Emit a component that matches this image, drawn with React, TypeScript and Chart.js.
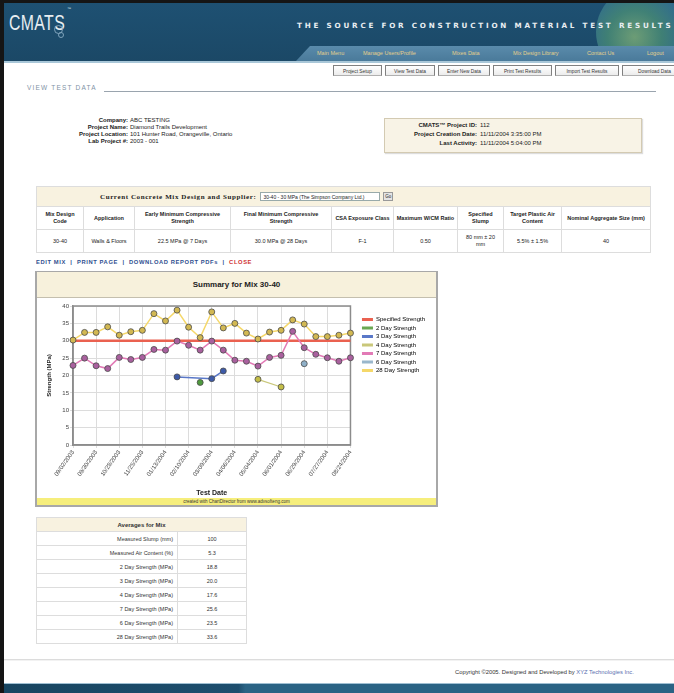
import React, { useEffect, useRef } from "react";
import { Chart, registerables } from "chart.js";

Chart.register(...registerables);

// ---------------- DATA ----------------
const testDates = [
  "09/02/2003", "09/16/2003", "09/30/2003", "10/14/2003", "10/28/2003",
  "11/11/2003", "11/25/2003", "12/09/2003", "01/13/2004", "01/27/2004",
  "02/10/2004", "02/24/2004", "03/09/2004", "03/23/2004", "04/06/2004",
  "04/20/2004", "05/04/2004", "05/18/2004", "06/01/2004", "06/15/2004",
  "06/29/2004", "07/13/2004", "07/27/2004", "08/10/2004", "08/24/2004",
];

const specifiedStrength = [
  30, 30, 30, 30, 30, 30, 30, 30, 30, 30, 30, 30, 30,
  30, 30, 30, 30, 30, 30, 30, 30, 30, 30, 30, 30,
];

const day2Strength = [
  null, null, null, null, null, null, null, null, null, null, null, 18.0, null,
  null, null, null, null, null, null, null, null, null, null, null, null,
];

const day3Strength = [
  null, null, null, null, null, null, null, null, null, 19.6, null, null, 19.1,
  21.3, null, null, null, null, null, null, null, null, null, null, null,
];

const day4Strength = [
  null, null, null, null, null, null, null, null, null, null, null, null, null,
  null, null, null, 18.9, null, 16.7, null, null, null, null, null, null,
];

const day7Strength = [
  22.9, 25.0, 22.8, 22.0, 25.2, 24.6, 25.2, 27.5, 27.3, 29.9, 28.7, 27.3, 29.9,
  27.3, 24.4, 24.1, 22.7, 25.2, 25.8, 32.7, 28.0, 26.1, 25.1, 24.1, 25.1,
];

const day6Strength = [
  null, null, null, null, null, null, null, null, null, null, null, null, null,
  null, null, null, null, null, null, null, 23.4, null, null, null, null,
];

const day28Strength = [
  30.2, 32.4, 32.4, 34.0, 31.6, 32.6, 33.0, 37.8, 35.7, 38.8, 33.9, 30.9, 38.3,
  33.7, 35.0, 32.2, 30.5, 32.5, 33.0, 36.0, 34.8, 31.2, 31.2, 31.6, 32.2,
];

const yTicksMin = 0;
const yTicksMax = 40;
const yTickStep = 5;

const averageLabels = [
  "Measured Slump (mm)",
  "Measured Air Content (%)",
  "2 Day Strength (MPa)",
  "3 Day Strength (MPa)",
  "4 Day Strength (MPa)",
  "7 Day Strength (MPa)",
  "6 Day Strength (MPa)",
  "28 Day Strength (MPa)",
];
const averageValues = ["100", "5.3", "18.8", "20.0", "17.6", "25.6", "23.5", "33.6"];

const mixHeaders = [
  "Mix Design Code", "Application", "Early Minimum Compressive Strength",
  "Final Minimum Compressive Strength", "CSA Exposure Class", "Maximum W/CM Ratio",
  "Specified Slump", "Target Plastic Air Content", "Nominal Aggregate Size (mm)",
];
const mixValues = [
  "30-40", "Walls & Floors", "22.5 MPa @ 7 Days", "30.0 MPa @ 28 Days", "F-1",
  "0.50", "80 mm ± 20 mm", "5.5% ± 1.5%", "40",
];
const mixColWidths = [47, 51, 96, 101, 62, 64, 46, 58, 89];

const navLinks = ["Main Menu", "Manage Users/Profile", "Mixes Data", "Mix Design Library", "Contact Us", "Logout"];
const navX = [317, 363, 452, 513, 587, 647];
const tabs = ["Project Setup", "View Test Data", "Enter New Data", "Print Test Results", "Import Test Results", "Download Data"];
const tabX = [333, 385, 438, 493, 555, 622, 690];

const FONT = "'Liberation Sans', Arial, sans-serif";

// ---------------- CHART ----------------
const framePlugin = {
  id: "frame",
  beforeDatasetsDraw(chart: any) {
    const { ctx, chartArea } = chart;
    ctx.save();
    ctx.strokeStyle = "#8c8c8c";
    ctx.lineWidth = 1.5;
    ctx.strokeRect(chartArea.left, chartArea.top, chartArea.right - chartArea.left, chartArea.bottom - chartArea.top);
    ctx.restore();
  },
};

const legendShift = {
  id: "legendShift",
  afterLayout(chart: any) {
    const lg = chart.legend;
    if (lg) {
      lg.left = chart.chartArea.right + 9;
      lg.top += 8;
    }
  },
};

function ChartPanel() {
  const ref = useRef<HTMLCanvasElement | null>(null);
  useEffect(() => {
    if (!ref.current) return;
    const marker = (fill: string) => ({
      pointBackgroundColor: fill,
      pointBorderColor: "#4a4a4a",
      pointBorderWidth: 0.8,
      pointRadius: 3,
    });
    const chart = new Chart(ref.current, {
      type: "line",
      data: {
        labels: testDates,
        datasets: [
          { label: "Specified Strength", data: specifiedStrength, borderColor: "#ea6150", backgroundColor: "#ea6150", borderWidth: 2.5, pointRadius: 0, order: 1 },
          { label: "2 Day Strength", data: day2Strength, borderColor: "#6aa852", backgroundColor: "#6aa852", borderWidth: 1.2, spanGaps: true, order: 0, ...marker("#4f9a3e") },
          { label: "3 Day Strength", data: day3Strength, borderColor: "#5a78c8", backgroundColor: "#5a78c8", borderWidth: 1.5, spanGaps: true, order: 0, ...marker("#3d5aa8") },
          { label: "4 Day Strength", data: day4Strength, borderColor: "#c9c77a", backgroundColor: "#c9c77a", borderWidth: 1.2, spanGaps: true, order: 0, ...marker("#c3bd48") },
          { label: "7 Day Strength", data: day7Strength, borderColor: "#e27ab6", backgroundColor: "#e27ab6", borderWidth: 1.5, spanGaps: true, order: 0, ...marker("#a9609e") },
          { label: "6 Day Strength", data: day6Strength, borderColor: "#9ab7cc", backgroundColor: "#9ab7cc", borderWidth: 1.2, spanGaps: true, order: 0, ...marker("#8fb0c8") },
          { label: "28 Day Strength", data: day28Strength, borderColor: "#f5d86a", backgroundColor: "#f5d86a", borderWidth: 1.5, spanGaps: true, order: 0, ...marker("#d2b852") },
        ],
      },
      options: {
        responsive: false,
        animation: false,
        devicePixelRatio: 1,
        layout: { padding: { top: 8, right: 10, bottom: 0, left: 0 } },
        elements: { line: { tension: 0 } },
        plugins: {
          tooltip: { enabled: false },
          title: { display: false },
          legend: {
            position: "right",
            align: "start",
            labels: {
              boxWidth: 11,
              boxHeight: 3,
              padding: 2.5,
              color: "#333",
              font: { size: 6, family: FONT },
              generateLabels: (c: any) =>
                c.data.datasets.map((ds: any, i: number) => ({
                  text: ds.label,
                  fillStyle: ds.borderColor,
                  strokeStyle: ds.borderColor,
                  lineWidth: 0,
                  hidden: false,
                  datasetIndex: i,
                })),
            },
          },
        },
        scales: {
          x: {
            offset: false,
            grid: { color: "#dcdcdc", lineWidth: 1, tickLength: 3 },
            border: { color: "#8c8c8c", width: 1.5 },
            ticks: {
              autoSkip: false,
              maxRotation: 55,
              minRotation: 55,
              padding: 1,
              color: "#444",
              font: { size: 6, family: FONT },
              callback: function (this: any, v: any, i: number) {
                return i % 2 === 0 ? this.getLabelForValue(v) : null;
              },
            },
            title: { display: true, text: "Test Date", color: "#222", font: { size: 7, weight: "bold", family: FONT }, padding: { top: 0, bottom: 1 } },
            afterFit: (s: any) => { s.height = 53; },
          },
          y: {
            min: yTicksMin,
            max: yTicksMax,
            grid: { color: "#dcdcdc", lineWidth: 1, tickLength: 3 },
            border: { color: "#8c8c8c", width: 1.5 },
            ticks: { stepSize: yTickStep, padding: 1, color: "#444", font: { size: 6, family: FONT } },
            title: { display: true, text: "Strength (MPa)", color: "#222", font: { size: 6, weight: "bold", family: FONT }, padding: { top: 9, bottom: 0 } },
            afterFit: (s: any) => { s.width = 36; },
          },
        },
      },
      plugins: [framePlugin, legendShift],
    } as any);
    return () => chart.destroy();
  }, []);

  return (
    <div style={{ position: "absolute", left: 35, top: 271, width: 399, height: 233, border: "2px solid #a8a8a8", borderTopWidth: 1, background: "#fff" }}>
      <div style={{ height: 25, background: "#f7f1dc", borderBottom: "1px solid #c4bfae", display: "flex", alignItems: "center", justifyContent: "center", fontFamily: FONT, fontSize: 8, fontWeight: "bold", color: "#222" }}>
        Summary for Mix 30-40
      </div>
      <canvas ref={ref} width={399} height={200} style={{ display: "block", width: 399, height: 200 }} />
      <div style={{ height: 7, background: "#f6ee7c", fontFamily: FONT, fontSize: 4.5, lineHeight: "7px", textAlign: "center", color: "#333" }}>
        created with ChartDirector from www.advsofteng.com
      </div>
    </div>
  );
}

// ---------------- PAGE ----------------
const abs = (left: number, top: number, extra: any = {}) => ({ position: "absolute" as const, left, top, ...extra });

export default function App() {
  useEffect(() => {
    document.body.style.margin = "0";
  }, []);

  const small = { fontFamily: FONT, fontSize: 6, color: "#222", whiteSpace: "nowrap" as const };

  return (
    <div style={{ position: "relative", width: 674, height: 693, overflow: "hidden", background: "#fff", fontFamily: FONT }}>
      {/* header */}
      <div style={abs(0, 0, { width: 674, height: 62, overflow: "hidden", background: "linear-gradient(#1e5173, #1b4866)" })}>
        <div style={abs(596, -18, { width: 110, height: 100, borderRadius: "50%", background: "radial-gradient(circle at 35% 55%, #8fbf7a 0%, #4f9678 30%, #3a7a98 55%, rgba(40,90,120,0) 72%)", opacity: 0.7 })} />
      </div>
      <div style={abs(9, 10, { fontFamily: "'Liberation Sans Narrow', 'Liberation Sans', sans-serif", fontSize: 22, color: "#e8eef2", transform: "scaleX(0.72)", transformOrigin: "left top", letterSpacing: 0.5 })}>CMATS</div>
      <div style={abs(67, 6, { fontSize: 4, color: "#dfe8ee" })}>™</div>
      <div style={abs(54, 25, { width: 7, height: 7, borderRadius: "50%", border: "1px solid #7fa3bb" })} />
      <div style={abs(58, 32, { width: 4, height: 4, borderRadius: "50%", border: "1px solid #7fa3bb" })} />
      <div style={abs(297, 21, { fontFamily: "'DejaVu Sans', sans-serif", fontSize: 7.2, fontWeight: "bold", letterSpacing: 2.8, color: "#e9eef2", whiteSpace: "nowrap" })}>
        THE SOURCE FOR CONSTRUCTION MATERIAL TEST RESULTS
      </div>
      <div style={abs(296, 46, { width: 378, height: 15, background: "linear-gradient(#5a8bab, #4a7a9a)", clipPath: "polygon(14px 0, 100% 0, 100% 100%, 0 100%)" })} />
      {navLinks.map((t, i) => (
        <div key={t} style={abs(navX[i], 50, { fontSize: 5.5, color: "#e2cf8c", whiteSpace: "nowrap" })}>{t}</div>
      ))}
      <div style={abs(0, 61, { width: 674, height: 2, background: "#a9c7d8" })} />
      <div style={abs(0, 0, { width: 674, height: 3, background: "#151515" })} />
      <div style={abs(0, 0, { width: 4, height: 693, background: "#151515" })} />

      {/* tabs */}
      {tabs.map((t, i) => (
        <div key={t} style={abs(tabX[i], 65, { width: tabX[i + 1] - tabX[i] - 3, height: 11, border: "1px solid #808080", borderBottomColor: "#b0b0b0", background: "linear-gradient(#ffffff, #ececec)", fontSize: 4.8, lineHeight: "11px", textAlign: "center", color: "#333", whiteSpace: "nowrap", overflow: "hidden", boxSizing: "border-box" })}>{t}</div>
      ))}

      {/* view test data */}
      <div style={abs(27, 84, { fontSize: 6.5, letterSpacing: 1.2, color: "#8293a6", fontVariant: "small-caps", whiteSpace: "nowrap" })}>VIEW TEST DATA</div>
      <div style={abs(104, 91, { width: 552, height: 1, background: "#9aa4ae" })} />

      {/* company block */}
      {[
        ["Company:", "ABC TESTING"],
        ["Project Name:", "Diamond Trails Development"],
        ["Project Location:", "101 Hunter Road, Orangeville, Ontario"],
        ["Lab Project #:", "2003 - 001"],
      ].map((r, i) => (
        <React.Fragment key={r[0]}>
          <div style={abs(58, 117 + i * 7, { ...small, width: 70, textAlign: "right", fontWeight: "bold" })}>{r[0]}</div>
          <div style={abs(130, 117 + i * 7, small)}>{r[1]}</div>
        </React.Fragment>
      ))}

      {/* project id box */}
      <div style={abs(384, 118, { width: 258, height: 35, background: "#f8f3e6", border: "1px solid #d3cab2", boxSizing: "border-box", boxShadow: "1px 1px 1px #ddd" })} />
      {[
        ["CMATS™ Project ID:", "112"],
        ["Project Creation Date:", "11/11/2004 3:35:00 PM"],
        ["Last Activity:", "11/11/2004 5:04:00 PM"],
      ].map((r, i) => (
        <React.Fragment key={r[0]}>
          <div style={abs(390, 122 + i * 9, { ...small, width: 87, textAlign: "right", fontWeight: "bold" })}>{r[0]}</div>
          <div style={abs(480, 122 + i * 9, small)}>{r[1]}</div>
        </React.Fragment>
      ))}

      {/* mix table */}
      <table style={{ position: "absolute", left: 36, top: 186, width: 614, borderCollapse: "collapse", fontFamily: FONT, fontSize: 5.5, color: "#222", tableLayout: "fixed" }}>
        <colgroup>
          {mixColWidths.map((w, i) => <col key={i} style={{ width: w }} />)}
        </colgroup>
        <tbody>
          <tr style={{ height: 20, background: "#f8f2e0" }}>
            <td colSpan={9} style={{ border: "1px solid #ddd", textAlign: "left", padding: 0 }}>
              <span style={{ display: "inline-block", marginLeft: 63, fontFamily: "'Liberation Serif', serif", fontWeight: "bold", fontSize: 7, letterSpacing: 0.6, verticalAlign: "middle" }}>Current Concrete Mix Design and Supplier:</span>
              <span style={{ display: "inline-block", marginLeft: 4, width: 120, height: 9, border: "1px solid #9aa", background: "#fff", fontSize: 5, lineHeight: "9px", verticalAlign: "middle", paddingLeft: 2, boxSizing: "border-box", whiteSpace: "nowrap", overflow: "hidden" }}>30-40 - 30 MPa (The Simpson Company Ltd.)</span>
              <span style={{ display: "inline-block", marginLeft: 3, width: 10, height: 9, border: "1px solid #999", background: "#e4e4e4", fontSize: 4.5, lineHeight: "8px", textAlign: "center", verticalAlign: "middle", boxSizing: "border-box" }}>Go</span>
            </td>
          </tr>
          <tr style={{ height: 23 }}>
            {mixHeaders.map((h) => (
              <td key={h} style={{ border: "1px solid #ddd", textAlign: "center", fontWeight: "bold", padding: "0 2px", lineHeight: "7px" }}>{h}</td>
            ))}
          </tr>
          <tr style={{ height: 23 }}>
            {mixValues.map((v, i) => (
              <td key={i} style={{ border: "1px solid #ddd", textAlign: "center", padding: "0 4px", lineHeight: "7px" }}>{v}</td>
            ))}
          </tr>
        </tbody>
      </table>

      {/* links */}
      <div style={abs(36, 259, { fontSize: 5.8, fontWeight: "bold", color: "#2f4f8f", letterSpacing: 0.6, whiteSpace: "nowrap" })}>
        EDIT MIX &nbsp;|&nbsp; PRINT PAGE &nbsp;|&nbsp; DOWNLOAD REPORT PDFs &nbsp;|&nbsp; <span style={{ color: "#d03030" }}>CLOSE</span>
      </div>

      <ChartPanel />

      {/* averages table */}
      <table style={{ position: "absolute", left: 36, top: 517, width: 210, borderCollapse: "collapse", fontFamily: FONT, fontSize: 5.5, color: "#333", tableLayout: "fixed" }}>
        <colgroup>
          <col style={{ width: 141 }} />
          <col style={{ width: 69 }} />
        </colgroup>
        <tbody>
          <tr style={{ height: 14, background: "#f8f2e0" }}>
            <td colSpan={2} style={{ border: "1px solid #ddd", textAlign: "center", fontWeight: "bold", fontSize: 6 }}>Averages for Mix</td>
          </tr>
          {averageLabels.map((l, i) => (
            <tr key={l} style={{ height: 14 }}>
              <td style={{ border: "1px solid #ddd", textAlign: "right", paddingRight: 4 }}>{l}</td>
              <td style={{ border: "1px solid #ddd", textAlign: "center" }}>{averageValues[i]}</td>
            </tr>
          ))}
        </tbody>
      </table>

      {/* footer */}
      <div style={abs(4, 659, { width: 670, height: 1, background: "#dcdcdc" })} />
      <div style={abs(4, 660, { width: 670, height: 1, background: "#f2f2f2" })} />
      <div style={abs(455, 669, { fontSize: 5.8, color: "#333", whiteSpace: "nowrap" })}>
        Copyright ©2005. Designed and Developed by <span style={{ color: "#5a6fb0" }}>XYZ Technologies Inc.</span>
      </div>
      <div style={abs(4, 683, { width: 670, height: 1, background: "#9fbfd2" })} />
      <div style={abs(4, 684, { width: 670, height: 9, background: "linear-gradient(90deg, #184560 0%, #1d4e6e 35%, #2a6384 36%, #2a6384 100%)" })} />
    </div>
  );
}
